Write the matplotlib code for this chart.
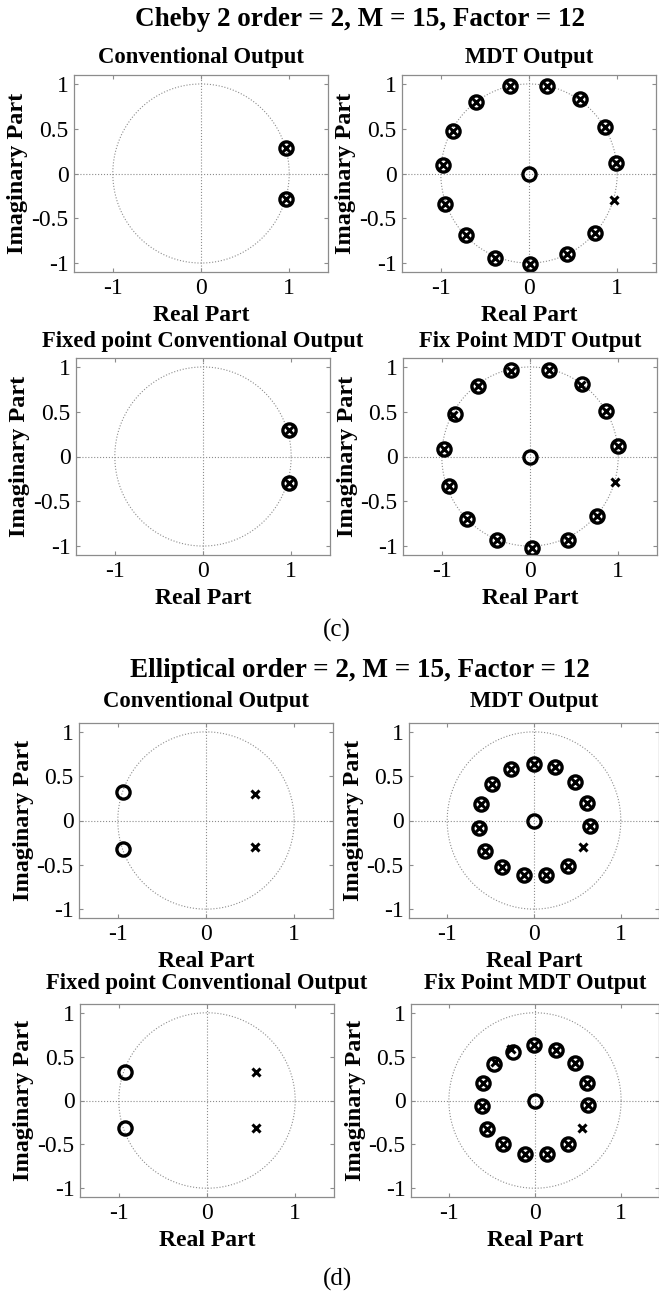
import numpy as np
import matplotlib
matplotlib.use("Agg")
import matplotlib.pyplot as plt

plt.rcParams['font.family'] = ['Liberation Serif', 'DejaVu Serif']
plt.rcParams['axes.unicode_minus'] = False

W, H = 659, 1297

# ---- data (real, imag) ----
# Cheby 2 conventional: poles and zeros sit on top of each other
cheby_conv_z = [(0.96, 0.29), (0.96, -0.29)]
cheby_conv_p = [(0.96, 0.29), (0.96, -0.29)]

# Cheby 2 MDT: shared pole/zero ring + extra zero at origin and pole
cheby_mdt_ring = [(-0.21, 0.98), (0.20, 0.98), (0.58, 0.83), (0.86, 0.52),
                  (0.99, 0.12), (0.75, -0.67), (0.43, -0.90), (0.01, -1.01),
                  (-0.39, -0.94), (-0.72, -0.69), (-0.95, -0.34), (-0.98, 0.09),
                  (-0.86, 0.48), (-0.60, 0.80)]
cheby_mdt_z = cheby_mdt_ring + [(0.0, 0.0)]
cheby_mdt_p = cheby_mdt_ring + [(0.96, -0.30)]

cheby_fix_conv_z = [(0.97, 0.30), (0.97, -0.30)]
cheby_fix_conv_p = [(0.97, 0.30), (0.97, -0.30)]

cheby_fix_mdt_z = [(-0.22, 0.97), (0.21, 0.97), (0.59, 0.81), (0.86, 0.51),
                   (1.00, 0.12), (0.76, -0.66), (0.43, -0.93), (0.02, -1.02),
                   (-0.37, -0.93), (-0.72, -0.70), (-0.92, -0.33), (-0.98, 0.08),
                   (-0.85, 0.48), (-0.59, 0.79), (0.0, 0.0)]
cheby_fix_mdt_p = [(-0.21, 0.96), (0.21, 0.97), (0.58, 0.80), (0.86, 0.51),
                   (1.00, 0.12), (0.76, -0.66), (0.43, -0.93), (0.02, -1.02),
                   (-0.37, -0.93), (-0.72, -0.70), (-0.92, -0.33), (-0.98, 0.08),
                   (-0.87, 0.46), (-0.59, 0.79), (0.96, -0.29)]

# Elliptical conventional
ell_conv_z = [(-0.94, 0.32), (-0.94, -0.32)]
ell_conv_p = [(0.55, 0.30), (0.55, -0.30)]

ell_fix_conv_z = [(-0.93, 0.32), (-0.93, -0.31)]
ell_fix_conv_p = [(0.56, 0.32), (0.56, -0.31)]

ell_mdt_ring = [(0.00, 0.64), (0.24, 0.60), (0.47, 0.43), (0.61, 0.20),
                (0.64, -0.06), (0.39, -0.51), (0.14, -0.62), (-0.12, -0.62),
                (-0.37, -0.53), (-0.56, -0.34), (-0.63, -0.08), (-0.61, 0.19),
                (-0.48, 0.41), (-0.26, 0.58)]
ell_mdt_z = ell_mdt_ring + [(0.0, 0.0)]
ell_mdt_p = ell_mdt_ring + [(0.56, -0.30)]

ell_fix_mdt_z = [(-0.01, 0.63), (0.24, 0.58), (0.46, 0.43), (0.60, 0.20),
                 (0.62, -0.05), (0.38, -0.50), (0.14, -0.61), (-0.12, -0.61),
                 (-0.37, -0.50), (-0.56, -0.32), (-0.62, -0.06), (-0.60, 0.20),
                 (-0.48, 0.42), (-0.25, 0.55), (0.0, 0.0)]
ell_fix_mdt_p = [(-0.01, 0.63), (0.24, 0.58), (0.46, 0.43), (0.60, 0.20),
                 (0.62, -0.05), (0.38, -0.50), (0.14, -0.61), (-0.12, -0.61),
                 (-0.37, -0.50), (-0.56, -0.32), (-0.62, -0.06), (-0.60, 0.20),
                 (-0.46, 0.44), (-0.28, 0.59), (0.55, -0.31)]

xticks = [-1, 0, 1]
yticks = [-1, -0.5, 0, 0.5, 1]

grey = '#8c8c8c'

fig = plt.figure(figsize=(W / 100, H / 100), dpi=100)


def ftext(x, y, s, **kw):
    fig.text(x / W, 1 - y / H, s, **kw)


def zplane(x0, top, bottom, zeros, poles, title, title_y, half=127):
    ax = fig.add_axes([(x0 - half) / W, 1 - bottom / H, 2 * half / W, (bottom - top) / H])
    t = np.linspace(0, 2 * np.pi, 400)
    ax.plot(np.cos(t), np.sin(t), ':', color=grey, lw=0.8)
    ax.axhline(0, ls=':', color=grey, lw=0.8)
    ax.axvline(0, ls=':', color=grey, lw=0.8)
    z = np.array(zeros)
    p = np.array(poles)
    ax.plot(z[:, 0], z[:, 1], 'o', mfc='none', mec='k', ms=9.5, mew=2.4)
    ax.plot(p[:, 0], p[:, 1], 'x', color='k', ms=6, mew=2.2)
    ax.set_xlim(-1.44, 1.44)
    ax.set_ylim(-1.1, 1.1)
    ax.set_xticks(xticks)
    ax.set_yticks(yticks)
    ax.set_yticklabels(['%g' % v for v in yticks])
    ax.tick_params(direction='in', top=True, right=True, length=3, width=0.8,
                   color=grey, labelsize=17, pad=4)
    for s in ax.spines.values():
        s.set_color(grey)
        s.set_linewidth(0.9)
    ftext(x0, title_y, title, ha='center', va='baseline', fontsize=16.3, fontweight='bold')
    ftext(x0, bottom + 49, 'Real Part', ha='center', va='baseline', fontsize=17,
          fontweight='bold')
    ylx = x0 - half - 56
    ftext(ylx, (top + bottom) / 2, 'Imaginary Part', ha='center', va='center',
          rotation=90, fontsize=17.5, fontweight='bold')
    return ax


# (c) Cheby 2
ftext(360, 26, 'Cheby 2 order = 2, M = 15, Factor = 12', ha='center', va='baseline',
      fontsize=19.5, fontweight='bold')
zplane(201, 75, 272, cheby_conv_z, cheby_conv_p, 'Conventional Output', 63)
zplane(529, 75, 272, cheby_mdt_z, cheby_mdt_p, 'MDT Output', 63)
zplane(203, 358, 555, cheby_fix_conv_z, cheby_fix_conv_p, 'Fixed point Conventional Output', 347)
zplane(530, 358, 555, cheby_fix_mdt_z, cheby_fix_mdt_p, 'Fix Point MDT Output', 347)
ftext(337, 637, '(c)', ha='center', va='baseline', fontsize=18)

# (d) Elliptical
ftext(360, 677, 'Elliptical order = 2, M = 15, Factor = 12', ha='center', va='baseline',
      fontsize=19.5, fontweight='bold')
zplane(206, 723, 918, ell_conv_z, ell_conv_p, 'Conventional Output', 707)
zplane(534, 723, 918, ell_mdt_z, ell_mdt_p, 'MDT Output', 707, half=125)
zplane(207, 1004, 1197, ell_fix_conv_z, ell_fix_conv_p, 'Fixed point Conventional Output', 989)
zplane(535, 1004, 1197, ell_fix_mdt_z, ell_fix_mdt_p, 'Fix Point MDT Output', 989, half=124)
ftext(337, 1286, '(d)', ha='center', va='baseline', fontsize=18)

fig.savefig('out.png', dpi=100)
